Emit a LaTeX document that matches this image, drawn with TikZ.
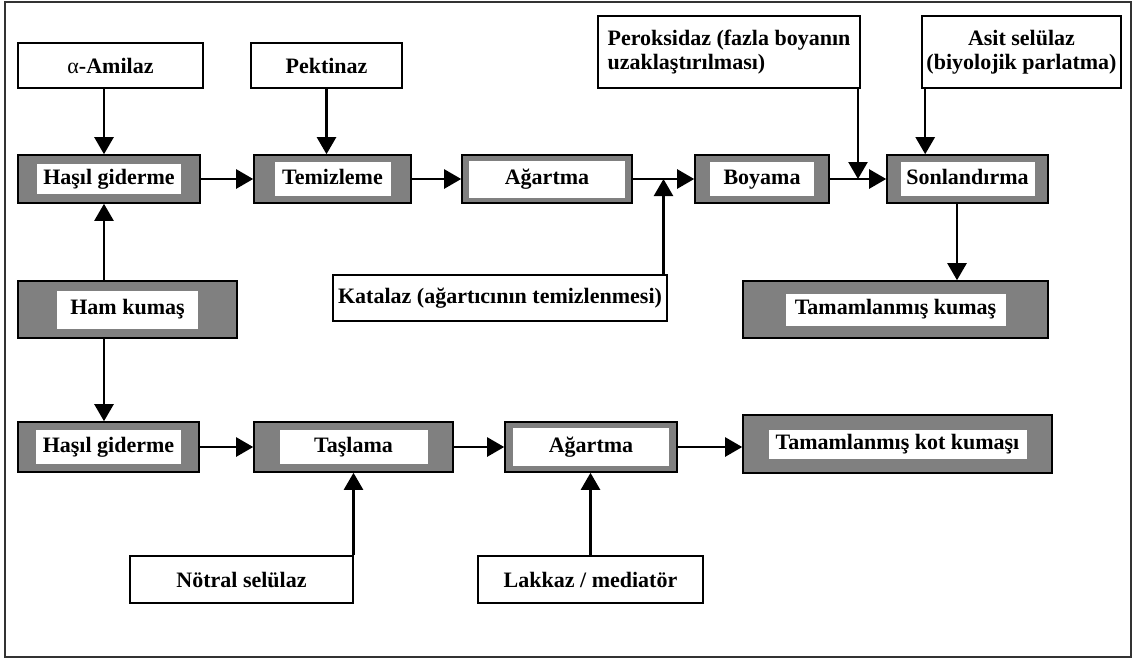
\documentclass[tikz,border=0pt]{standalone}
\usepackage{fontspec}
\setmainfont{Liberation Serif}
\usepackage{tikz}
\usetikzlibrary{arrows.meta,positioning,calc}
\definecolor{stagegray}{RGB}{128,128,128}
\tikzset{
  stage/.style  ={rectangle, draw=black, line width=1.6pt, fill=stagegray, inner sep=0pt},
  inbox/.style  ={rectangle, fill=white, inner sep=0pt, align=center, text height=15pt, text depth=5pt},
  enzyme/.style ={rectangle, draw=black, line width=1.6pt, fill=white, inner sep=0pt, align=center},
  flow/.style   ={-{Triangle[length=17pt,width=19pt]}, line width=2.4pt},
}

\begin{document}
\begin{tikzpicture}[x=1pt, y=-1pt, font=\fontsize{22}{24}\selectfont\bfseries]
    \useasboundingbox (0,0) rectangle (1132,659);
    \draw[line width=1.4pt, black!80] (5,2) rectangle (1131,657);

    % process stages (grey frame, white label)
    \foreach \n/\x/\y/\ow/\oh/\iw/\ih/\t in {
        hga/109/179/182/48/144/30/{Haşıl giderme},
        tem/332.5/179/157/48/116/34/Temizleme,
        aga/547/179/170/48/156/37/Ağartma,
        boy/762/179/134/48/104/34/Boyama,
        son/967.5/179/161/48/134/34/Sonlandırma,
        ham/127.5/309.5/219/57/141/38/{Ham kumaş},
        tkm/895.5/309.5/305/57/220/32/{Tamamlanmış kumaş},
        hgb/108.5/447/181/50/145/34/{Haşıl giderme},
        tas/353.5/447/199/50/148/34/Taşlama,
        agb/591/447/172/50/156/38/Ağartma,
        kot/897.5/444/309/58/258/29/{Tamamlanmış kot kumaşı}}{
      \node[stage, minimum width=\ow pt, minimum height=\oh pt] (\n) at (\x,\y) {};
      \node[inbox, minimum width=\iw pt, minimum height=\ih pt] at (\n) {\t};
    }

    % enzymes
    \node[enzyme, minimum width=185pt, minimum height=45pt] (amil) at (110.5,65.5) {{\mdseries α}-Amilaz};
    \node[enzyme, minimum width=151pt, minimum height=45pt] (pek) at (326.5,65.5) {Pektinaz};
    \node[enzyme, minimum width=262pt, minimum height=72pt, align=left] (perok) at (729,52)
        {Peroksidaz (fazla boyanın\\uzaklaştırılması)};
    \node[enzyme, minimum width=199pt, minimum height=72pt] (asit) at (1021.5,52)
        {Asit selülaz\\(biyolojik parlatma)};
    \node[enzyme, minimum width=334pt, minimum height=46pt] (kat) at (500,298)
        {Katalaz (ağartıcının temizlenmesi)};
    \node[enzyme, minimum width=223pt, minimum height=47pt] (notr) at (241.5,579.5) {Nötral selülaz};
    \node[enzyme, minimum width=225pt, minimum height=47pt] (lak) at (590.5,579.5) {Lakkaz / mediatör};

    \coordinate (lx) at (104,0);
    \coordinate (rx) at (957,0);
    \coordinate (ja) at ($(aga.east)!0.5!(boy.west)$);
    \coordinate (jb) at ($(boy.east)!0.5!(son.west)$);

    % upper line
    \draw[flow] (lx |- amil.south) -- (lx |- hga.north);
    \draw[flow] (pek.south) -- (pek.south |- tem.north);
    \draw[flow] (hga) -- (tem);
    \draw[flow] (tem) -- (aga);
    \draw[flow] (aga) -- (boy);
    \draw[flow] (boy) -- (son);
    \draw[flow] (kat.north -| ja) -- (ja);
    \draw[flow] (perok.south -| jb) -- (jb);
    \draw[flow] ([xshift=4pt]asit.south west) -- ([xshift=4pt]asit.south west |- son.north);
    \draw[flow] (rx |- son.south) -- (rx |- tkm.north);

    % raw fabric
    \draw[flow] (lx |- ham.north) -- (lx |- hga.south);
    \draw[flow] (lx |- ham.south) -- (lx |- hgb.north);

    % denim line
    \draw[flow] (hgb) -- (tas);
    \draw[flow] (tas) -- (agb);
    \draw[flow] (agb.east) -- (agb.east -| kot.west);
    \draw[flow] (tas.south |- notr.north) -- (tas.south);
    \draw[flow] (lak.north) -- (lak.north |- agb.south);
\end{tikzpicture}
\end{document}
